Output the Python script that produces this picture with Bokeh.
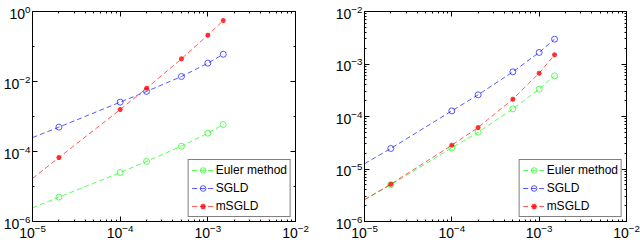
from bokeh.plotting import figure
from bokeh.layouts import row
from bokeh.models import FixedTicker, LogAxis, Legend, LegendItem, Range1d, CustomJSTickFormatter
from bokeh.embed import file_html
from bokeh.resources import INLINE

# step sizes (first value only carries the dashed line to the left edge)
step_sizes = [1e-5, 2e-5, 1e-4, 2e-4, 5e-4, 1e-3, 1.5e-3]

# left panel
left_euler = [2.45e-6, 4.96e-6, 2.5e-5, 5.2e-5, 1.42e-4, 3.34e-4, 5.9e-4]
left_sgld = [2.5e-4, 4.96e-4, 2.57e-3, 5.2e-3, 1.39e-2, 3.34e-2, 6.0e-2]
left_msgld = [1.7e-5, 6.7e-5, 1.58e-3, 6.4e-3, 4.45e-2, 0.211, 0.553]

# right panel
right_euler = [2.6e-6, 5.0e-6, 2.53e-5, 5.04e-5, 1.4e-4, 3.32e-4, 5.96e-4]
right_sgld = [1.26e-5, 2.46e-5, 1.28e-4, 2.59e-4, 7.1e-4, 1.66e-3, 2.97e-3]
right_msgld = [2.6e-6, 5.14e-6, 2.84e-5, 6.17e-5, 2.14e-4, 6.68e-4, 1.5e-3]

labels = ["Euler method", "SGLD", "mSGLD"]
colors = ["#00ff00", "#0000ff", "#ff0000"]
markers = ["circle", "circle", "asterisk"]

x_major = [1e-5, 1e-4, 1e-3, 1e-2]
x_minor = [k * 10.0 ** e for e in (-5, -4, -3) for k in range(2, 10)]
left_y_major = [1e-6, 1e-4, 1e-2, 1.0]
left_y_minor = [1e-5, 1e-3, 1e-1]
right_y_major = [1e-6, 1e-5, 1e-4, 1e-3, 1e-2]
right_y_minor = [k * 10.0 ** e for e in (-6, -5, -4, -3) for k in range(2, 10)]

FONT = "Liberation Sans"


def style_axis(ax, show_labels=True):
    ax.axis_line_color = "black"
    ax.major_tick_in = 5
    ax.major_tick_out = 0
    ax.minor_tick_in = 2
    ax.minor_tick_out = 0
    ax.major_tick_line_color = "black"
    ax.minor_tick_line_color = "black"
    ax.major_label_text_font = FONT
    ax.major_label_text_color = "black"
    ax.major_label_text_font_size = "14px"
    if not show_labels:
        ax.formatter = CustomJSTickFormatter(code="return ''")
        ax.major_label_standoff = 0


def panel(series, y_lo, y_hi, y_major, y_minor, width, b_left, b_right):
    p = figure(width=width, height=242, x_axis_type="log", y_axis_type="log",
               x_range=Range1d(1e-5, 1e-2), y_range=Range1d(y_lo, y_hi),
               output_backend="svg", toolbar_location=None,
               min_border_left=b_left, min_border_right=b_right,
               min_border_top=11, min_border_bottom=21)
    p.grid.visible = False
    p.outline_line_color = "black"
    p.outline_line_alpha = 1.0
    xt = FixedTicker(ticks=x_major, minor_ticks=x_minor)
    yt = FixedTicker(ticks=y_major, minor_ticks=y_minor)
    p.xaxis.ticker = xt
    p.yaxis.ticker = yt
    style_axis(p.xaxis[0])
    style_axis(p.yaxis[0])
    p.xaxis.major_label_standoff = 2
    p.yaxis.major_label_standoff = 2
    top = LogAxis(ticker=xt)
    style_axis(top, False)
    p.add_layout(top, "above")
    rgt = LogAxis(ticker=yt)
    style_axis(rgt, False)
    p.add_layout(rgt, "right")

    items = []
    for ys, lab, col, mk in zip(series, labels, colors, markers):
        lr = p.line(step_sizes, ys, line_color=col, line_width=1, line_alpha=0.65,
                    line_dash="5 3")
        if mk == "asterisk":
            sr = p.scatter(step_sizes[1:], ys[1:], marker=mk, size=5, line_color=col,
                           line_width=1.5, line_alpha=0.8)
        else:
            sr = p.scatter(step_sizes[1:], ys[1:], marker=mk, size=6, line_color=col,
                           fill_color=None, line_width=1, line_alpha=0.65)
        items.append(LegendItem(label=lab, renderers=[lr, sr]))
    leg = Legend(items=items, location="bottom_right")
    leg.label_text_font = FONT
    leg.label_text_font_size = "12px"
    leg.label_text_color = "black"
    leg.border_line_color = "black"
    leg.border_line_width = 1
    leg.background_fill_alpha = 1.0
    leg.glyph_width = 22
    leg.glyph_height = 14
    leg.label_height = 14
    leg.spacing = 4
    leg.padding = 3
    leg.label_standoff = 2
    leg.margin = 4
    p.add_layout(leg)
    return p


p1 = panel([left_euler, left_sgld, left_msgld], 1e-6, 1.0, left_y_major, left_y_minor,
           332, 27, 37)
p2 = panel([right_euler, right_sgld, right_msgld], 1e-6, 1e-2, right_y_major, right_y_minor,
           308, 27, 14)

layout = row(p1, p2)
open("out.html", "w").write(file_html(layout, INLINE))
